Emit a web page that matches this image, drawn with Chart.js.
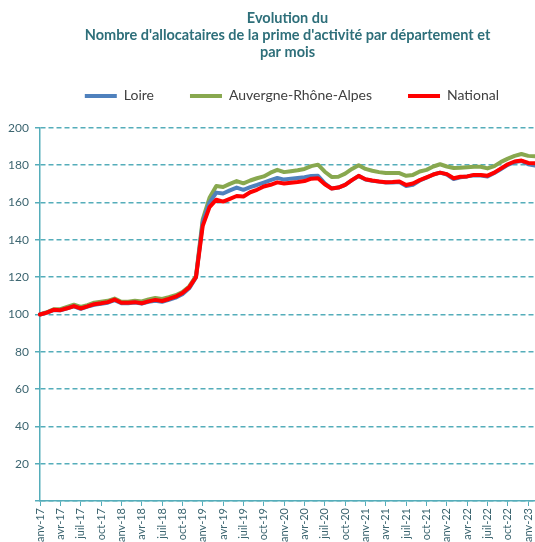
<!DOCTYPE html>
<html>
<head>
<meta charset="utf-8">
<script src="https://cdn.jsdelivr.net/npm/chart.js@4/dist/chart.umd.min.js"></script>
<style>
  html, body { margin: 0; padding: 0; background: #fff; }
  #wrap { width: 535px; height: 542px; }
</style>
</head>
<body>
<div id="wrap"><canvas id="chart"></canvas></div>
<script>
// mois de janv-17 a fevr-23
const moisNoms = ['janv', 'févr', 'mars', 'avr', 'mai', 'juin', 'juil', 'août', 'sept', 'oct', 'nov', 'déc'];
const mois = [];
for (let a = 17; a <= 23; a++) {
  moisNoms.forEach(m => mois.push(m + '-' + a));
}
mois.length = 74;

const loire = [
  100, 101, 102.3, 102.2, 103.3, 104.3, 103, 104.2, 105.2, 105.7, 106.3, 107.7,
  106, 106, 106.4, 105.8, 106.8, 107.3, 106.8, 107.8, 109, 110.8, 114, 119.8,
  149.5, 160, 165.3, 164.8, 166.5, 168, 166.8, 168.2, 169.4, 170.7, 172, 173.2,
  172.3, 172.8, 173.2, 173.6, 174.2, 174.3, 170.3, 167.5, 168, 169.5, 172, 174.2,
  172.3, 171.6, 171.2, 170.7, 170.7, 171, 168.8, 169.5, 171.8, 173.3, 175, 176,
  175, 172.6, 173.5, 174, 174.6, 174.5, 174, 175.8, 178, 180.2, 181.7, 182.3,
  180.5, 179.8
];
const auvergne = [
  100, 101.2, 102.8, 102.8, 104, 105.2, 104, 105, 106.3, 106.8, 107.3, 108.5,
  106.8, 106.8, 107.3, 107, 108, 108.8, 108.3, 109.2, 110.3, 112, 115, 120.5,
  151, 162.5, 168.8, 168.3, 170, 171.5, 170.3, 171.8, 173, 174, 176, 177.5,
  176.3, 176.8, 177.3, 178, 179.5, 180.3, 176.5, 173.7, 173.8, 175.5, 178, 180,
  178, 177, 176.3, 175.8, 175.8, 175.8, 174.3, 174.8, 176.6, 177.5, 179.3, 180.5,
  179.3, 178.5, 178.6, 178.9, 179.2, 179.2, 178.3, 179.5, 181.8, 183.5, 185, 186,
  185, 184.8
];
const national = [
  100, 101, 102.5, 102.3, 103.3, 104.5, 103.2, 104.3, 105.5, 106, 106.6, 108,
  106.3, 106.3, 106.6, 106, 107, 107.8, 107.2, 108.3, 109.5, 111.5, 114.5, 120,
  147.5, 157.5, 161.5, 160.5, 162, 163.5, 163.2, 165.5, 166.8, 168.6, 169.5, 170.8,
  170.2, 170.6, 171, 171.5, 172.8, 173, 169.8, 167.5, 168, 169.5, 172, 174.3,
  172.5, 171.8, 171.3, 170.9, 171, 171.3, 169.4, 170.2, 172, 173.5, 175, 176,
  175.2, 173, 173.8, 174, 174.8, 174.8, 174.4, 176, 178.3, 180.5, 182, 182.5,
  181.2, 181
];
const yTicks = [0, 20, 40, 60, 80, 100, 120, 140, 160, 180, 200];

const teal = '#55adba';
const texte = '#3c6570';

Chart.defaults.font.family = 'Lato';

// espace sous la legende
const legendGap = {
  id: 'legendGap',
  beforeLayout(chart) {
    const lg = chart.legend;
    if (lg && !lg._gap) {
      const fit = lg.fit;
      lg.fit = function () { fit.call(this); this.height += 15; };
      lg._gap = true;
    }
  }
};

new Chart(document.getElementById('chart'), {
  type: 'line',
  data: {
    labels: mois,
    datasets: [
      { label: 'Loire', data: loire, borderColor: '#4f81bd', backgroundColor: '#4f81bd', order: 1 },
      { label: 'Auvergne-Rhône-Alpes', data: auvergne, borderColor: '#88a84f', backgroundColor: '#88a84f', order: 2 },
      { label: 'National', data: national, borderColor: '#ff0000', backgroundColor: '#ff0000', order: 0 }
    ]
  },
  options: {
    responsive: true,
    maintainAspectRatio: false,
    animation: false,
    layout: { padding: 0 },
    elements: {
      point: { radius: 0 },
      line: { borderWidth: 4, tension: 0, borderJoinStyle: 'round', borderCapStyle: 'round' }
    },
    plugins: {
      title: {
        display: true,
        fullSize: false,
        text: ['Evolution du', "Nombre d'allocataires de la prime d'activité par département et", 'par mois'],
        color: '#2e6f7a',
        font: { size: 14.5, weight: 'bold', lineHeight: 1.17 },
        padding: { top: 10, bottom: -8 }
      },
      legend: {
        fullSize: true,
        align: 'end',
        labels: {
          boxWidth: 32,
          boxHeight: 4,
          padding: 36,
          color: '#404040',
          font: { size: 14 },
          sort: (a, b) => a.datasetIndex - b.datasetIndex,
          generateLabels(chart) {
            return Chart.defaults.plugins.legend.labels.generateLabels(chart)
              .map(l => Object.assign(l, { lineWidth: 0 }));
          }
        }
      },
      tooltip: { enabled: false }
    },
    scales: {
      x: {
        offset: false,
        afterFit(scale) {
          scale.height = 41;
          scale.paddingLeft = 0;
          scale.paddingRight = 0;
        },
        border: { display: true, color: teal, width: 1.5 },
        grid: {
          drawOnChartArea: false,
          drawTicks: true,
          tickLength: 5,
          tickColor: ctx => (ctx.index % 3 === 0 ? teal : 'rgba(0,0,0,0)')
        },
        ticks: {
          autoSkip: false,
          maxRotation: 90,
          minRotation: 90,
          padding: 2,
          color: texte,
          font: { size: 11 },
          callback(v, i) { return i % 3 === 0 ? mois[i] : ''; }
        }
      },
      y: {
        min: yTicks[0],
        max: yTicks[yTicks.length - 1],
        afterFit(scale) { scale.width = 40; },
        afterBuildTicks(scale) { scale.ticks = yTicks.map(v => ({ value: v })); },
        border: { display: true, color: teal, width: 1.5, dash: [5, 3] },
        grid: {
          color: teal,
          lineWidth: 1.5,
          tickLength: 5,
          tickColor: teal,
          tickBorderDash: [],
          tickWidth: 1.5
        },
        ticks: {
          padding: 6,
          color: texte,
          font: { size: 12 },
          callback(v) { return v === 0 ? '' : v; }
        }
      }
    }
  },
  plugins: [legendGap]
});
</script>
</body>
</html>
